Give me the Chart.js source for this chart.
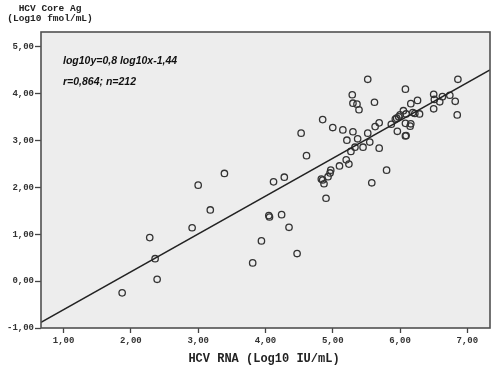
<!DOCTYPE html>
<html>
<head>
<meta charset="utf-8">
<script src="https://cdn.jsdelivr.net/npm/chart.js@4/dist/chart.umd.min.js"></script>
<style>
html,body{margin:0;padding:0;background:#fff;}
#wrap{width:500px;height:368px;position:relative;}
</style>
</head>
<body>
<div id="wrap"><canvas id="c" width="500" height="368"></canvas></div>
<script>
// HCV RNA (Log10 IU/mL)
const rnaValues = [1.87,2.28,2.36,2.39,2.91,3.00,3.18,3.39,3.81,3.94,4.05,4.06,4.24,4.35,4.47,4.12,4.28,4.83,4.85,4.87,4.90,4.93,4.96,4.97,5.10,5.20,5.24,5.58,5.80,4.53,4.61,4.85,5.00,5.15,5.30,5.21,5.37,5.52,5.27,5.33,5.45,5.55,5.69,5.63,5.69,5.87,5.96,6.08,6.09,6.08,6.16,6.15,5.52,5.29,5.30,5.36,5.39,5.62,6.86,6.08,6.50,6.63,6.74,6.51,6.59,6.82,6.50,6.85,6.26,6.16,6.05,6.00,5.98,6.09,6.19,6.22,6.29,5.93,5.95];
// HCV Core Ag (Log10 fmol/mL)
const coreAgValues = [-0.25,0.93,0.48,0.04,1.14,2.05,1.52,2.30,0.39,0.86,1.40,1.37,1.42,1.15,0.59,2.12,2.22,2.18,2.16,2.08,1.77,2.23,2.31,2.37,2.46,2.59,2.50,2.10,2.37,3.16,2.68,3.45,3.28,3.23,3.19,3.01,3.04,3.16,2.77,2.86,2.86,2.97,2.84,3.30,3.38,3.35,3.20,3.10,3.11,3.37,3.36,3.31,4.31,3.98,3.80,3.78,3.66,3.82,4.31,4.10,3.99,3.94,3.97,3.88,3.83,3.84,3.68,3.55,3.86,3.79,3.64,3.55,3.51,3.57,3.60,3.58,3.57,3.46,3.48];
// regression line end points (as drawn)
const fitLineX = [0.664, 7.337];
const fitLineY = [-0.88, 4.51];
const xTicks = [1,2,3,4,5,6,7];
const yTicks = [-1,0,1,2,3,4,5];
const xTitle = "HCV RNA (Log10 IU/mL)";
const yTitleLines = ["HCV Core Ag", "(Log10 fmol/mL)"];
const annotationLines = ["log10y=0,8 log10x-1,44", "r=0,864; n=212"];

const scatterData = rnaValues.map((x,i)=>({x:x, y:coreAgValues[i]}));
const lineData = fitLineX.map((x,i)=>({x:x, y:fitLineY[i]}));
const fmt = v => v.toFixed(2).replace('.', ',');

const decor = {
  id:'decor',
  beforeDatasetsDraw(chart){
    const {ctx, chartArea:a} = chart;
    ctx.save();
    ctx.fillStyle = '#ededed';
    ctx.fillRect(a.left, a.top, a.right-a.left, a.bottom-a.top);
    ctx.restore();
  },
  afterDatasetsDraw(chart){
    const {ctx, chartArea:a, scales} = chart;
    ctx.save();
    ctx.strokeStyle = '#505050';
    ctx.lineWidth = 1.6;
    ctx.strokeRect(a.left, a.top, a.right-a.left, a.bottom-a.top);
    // annotation
    ctx.fillStyle = '#111';
    ctx.font = 'italic bold 10.5px "Liberation Sans", Arial, sans-serif';
    ctx.textAlign = 'left';
    ctx.textBaseline = 'middle';
    ctx.fillText(annotationLines[0], 63, 61);
    ctx.fillText(annotationLines[1], 63, 82);
    // y title
    ctx.fillStyle = '#222';
    ctx.font = 'bold 9.5px "Liberation Mono", "DejaVu Sans Mono", monospace';
    ctx.textAlign = 'center';
    ctx.fillText(yTitleLines[0], 50, 9);
    ctx.fillText(yTitleLines[1], 50, 19);
    // x title
    ctx.font = 'bold 12px "Liberation Mono", "DejaVu Sans Mono", monospace';
    ctx.fillText(xTitle, 264, 359);
    ctx.restore();
  }
};

new Chart(document.getElementById('c'), {
  type:'scatter',
  data:{
    datasets:[
      {
        label:'Samples',
        data:scatterData,
        pointStyle:'circle',
        pointRadius:3.2,
        pointBackgroundColor:'rgba(0,0,0,0)',
        pointBorderColor:'#333',
        pointBorderWidth:1.3,
        order:2
      },
      {
        label:'Fit',
        data:lineData,
        showLine:true,
        borderColor:'#222',
        borderWidth:1.5,
        pointRadius:0,
        fill:false,
        order:1
      }
    ]
  },
  options:{
    responsive:false,
    animation:false,
    events:[],
    layout:{padding:{top:32,right:10,left:0,bottom:0}},
    plugins:{legend:{display:false}, tooltip:{enabled:false}, title:{display:false}},
    scales:{
      x:{
        type:'linear',
        min:0.664, max:7.337,
        afterBuildTicks(s){ s.ticks = xTicks.map(v=>({value:v})); },
        afterFit(s){ s.height = 40; },
        grid:{drawOnChartArea:false, drawTicks:true, tickLength:5, tickColor:'#444', tickWidth:1.3},
        border:{display:false},
        ticks:{
          padding:2,
          color:'#333',
          maxRotation:0,
          font:{family:'"Liberation Mono", monospace', size:9, weight:'bold'},
          callback:v=>fmt(v)
        }
      },
      y:{
        type:'linear',
        min:-1, max:5.32,
        afterBuildTicks(s){ s.ticks = yTicks.map(v=>({value:v})); },
        afterFit(s){ s.width = 41; },
        grid:{drawOnChartArea:false, drawTicks:true, tickLength:6, tickColor:'#444', tickWidth:1.3},
        border:{display:false},
        ticks:{
          padding:1,
          color:'#333',
          font:{family:'"Liberation Mono", monospace', size:9, weight:'bold'},
          callback:v=>fmt(v)
        }
      }
    }
  },
  plugins:[decor]
});
</script>
</body>
</html>
